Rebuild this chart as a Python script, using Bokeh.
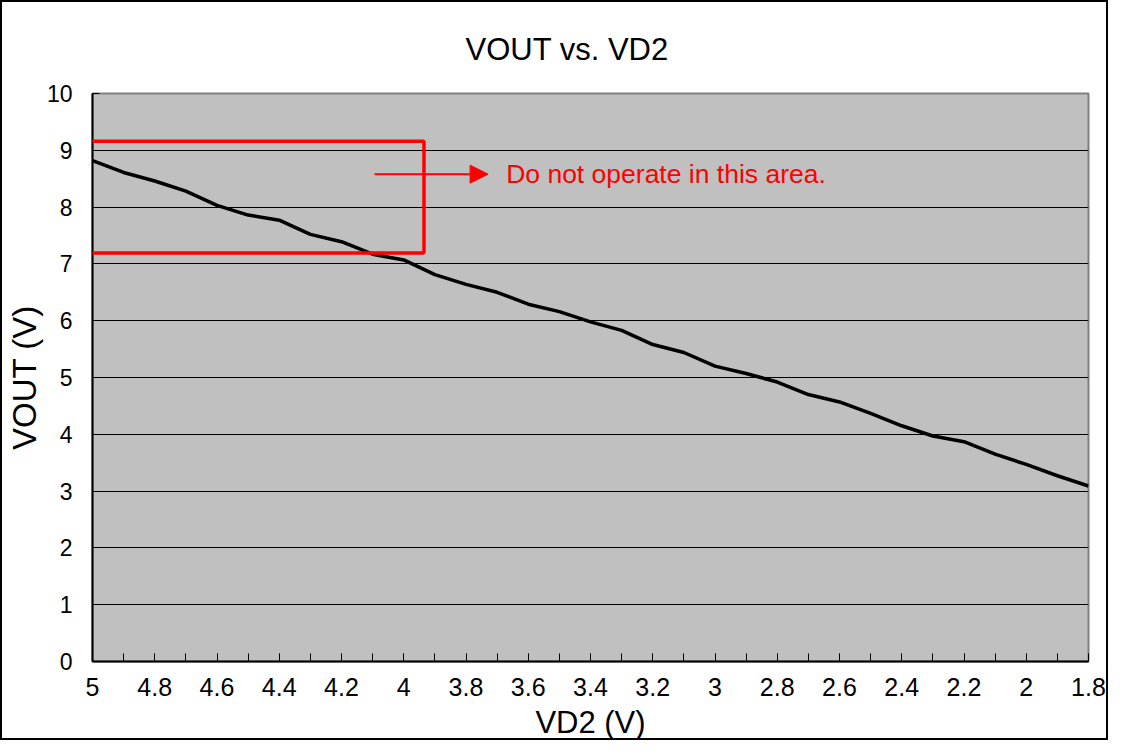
from bokeh.plotting import figure
from bokeh.models import (Range1d, FixedTicker, CustomJSTickFormatter, BoxAnnotation,
                          Arrow, NormalHead, Label)
from bokeh.embed import file_html
from bokeh.resources import INLINE

# data
vd2 = [5.0, 4.9, 4.8, 4.7, 4.6, 4.5, 4.4, 4.3, 4.2, 4.1, 4.0, 3.9, 3.8, 3.7, 3.6, 3.5, 3.4,
       3.3, 3.2, 3.1, 3.0, 2.9, 2.8, 2.7, 2.6, 2.5, 2.4, 2.3, 2.2, 2.1, 2.0, 1.9, 1.8]
vout = [8.82, 8.61, 8.46, 8.28, 8.03, 7.86, 7.77, 7.52, 7.39, 7.17, 7.07, 6.81, 6.64, 6.50,
        6.29, 6.16, 5.98, 5.83, 5.58, 5.44, 5.20, 5.07, 4.92, 4.70, 4.57, 4.37, 4.15, 3.97,
        3.87, 3.65, 3.47, 3.27, 3.09]
x_major_ticks = [5.0, 4.8, 4.6, 4.4, 4.2, 4.0, 3.8, 3.6, 3.4, 3.2, 3.0, 2.8, 2.6, 2.4, 2.2, 2.0, 1.8]
y_ticks = [0, 1, 2, 3, 4, 5, 6, 7, 8, 9, 10]
title_text = "VOUT vs. VD2"
x_label = "VD2 (V)"
y_label = "VOUT (V)"
note_text = "Do not operate in this area."

# annotation placement (data units)
box_left, box_right, box_bottom, box_top = 5.026, 3.935, 7.19, 9.16
arrow_x0, arrow_x1, arrow_y = 4.094, 3.729, 8.58
note_x, note_y = 3.671, 8.58

FONT = "Liberation Sans"

p = figure(width=1108, height=740, output_backend="svg", toolbar_location=None,
           x_range=Range1d(5.0, 1.8), y_range=Range1d(0, 10),
           min_border_left=84, min_border_right=22, min_border_top=91, min_border_bottom=80)

p.styles = {"border": "2px solid black"}

p.background_fill_color = "#C0C0C0"
p.border_fill_color = "white"
p.outline_line_color = "#808080"
p.outline_line_width = 2

p.title.text = title_text
p.title.align = "left"
p.title.offset = 373
p.title.text_font = FONT
p.title.text_font_size = "31px"
p.title.text_font_style = "normal"
p.title.text_color = "black"
p.title.standoff = 53

# x axis
xa = p.xaxis[0]
xa.ticker = FixedTicker(ticks=x_major_ticks, minor_ticks=vd2)
xa.formatter = CustomJSTickFormatter(code="return String(parseFloat(tick.toFixed(1)));")
xa.major_tick_in = 8
xa.major_tick_out = 0
xa.minor_tick_in = 8
xa.minor_tick_out = 0
xa.major_tick_line_color = "black"
xa.minor_tick_line_color = "black"
xa.axis_line_color = "black"
xa.axis_line_width = 2
xa.major_label_text_font = FONT
xa.major_label_text_font_size = "25px"
xa.major_label_text_color = "black"
xa.major_label_standoff = 16
xa.axis_label = x_label
xa.axis_label_text_font = FONT
xa.axis_label_text_font_size = "31px"
xa.axis_label_text_font_style = "normal"
xa.axis_label_text_color = "black"
xa.axis_label_standoff = 6

# y axis
ya = p.yaxis[0]
ya.ticker = FixedTicker(ticks=y_ticks, minor_ticks=[])
ya.major_tick_in = 7
ya.major_tick_out = 0
ya.major_tick_line_color = "black"
ya.axis_line_color = "black"
ya.axis_line_width = 2
ya.major_label_text_font = FONT
ya.major_label_text_font_size = "23px"
ya.major_label_text_color = "black"
ya.major_label_standoff = 20
ya.axis_label = y_label
ya.axis_label_text_font = FONT
ya.axis_label_text_font_size = "33px"
ya.axis_label_text_font_style = "normal"
ya.axis_label_text_color = "black"
ya.axis_label_standoff = 1

p.xgrid.grid_line_color = None
p.ygrid.ticker = FixedTicker(ticks=y_ticks)
p.ygrid.grid_line_color = "black"
p.ygrid.grid_line_width = 1

p.line(vd2, vout, line_color="black", line_width=3.5)

p.add_layout(BoxAnnotation(left=box_left, right=box_right, bottom=box_bottom, top=box_top,
                           fill_alpha=0, line_color="#FF0000", line_width=3.5,
                           line_alpha=1))
p.add_layout(Arrow(x_start=arrow_x0, y_start=arrow_y, x_end=arrow_x1, y_end=arrow_y,
                   line_color="#FF0000", line_width=2,
                   end=NormalHead(size=18, fill_color="#FF0000", line_color="#FF0000")))
p.add_layout(Label(x=note_x, y=note_y, text=note_text, text_color="#FF0000",
                   text_font=FONT, text_font_size="26.5px", text_baseline="middle"))

open("out.html", "w").write(file_html(p, INLINE))
